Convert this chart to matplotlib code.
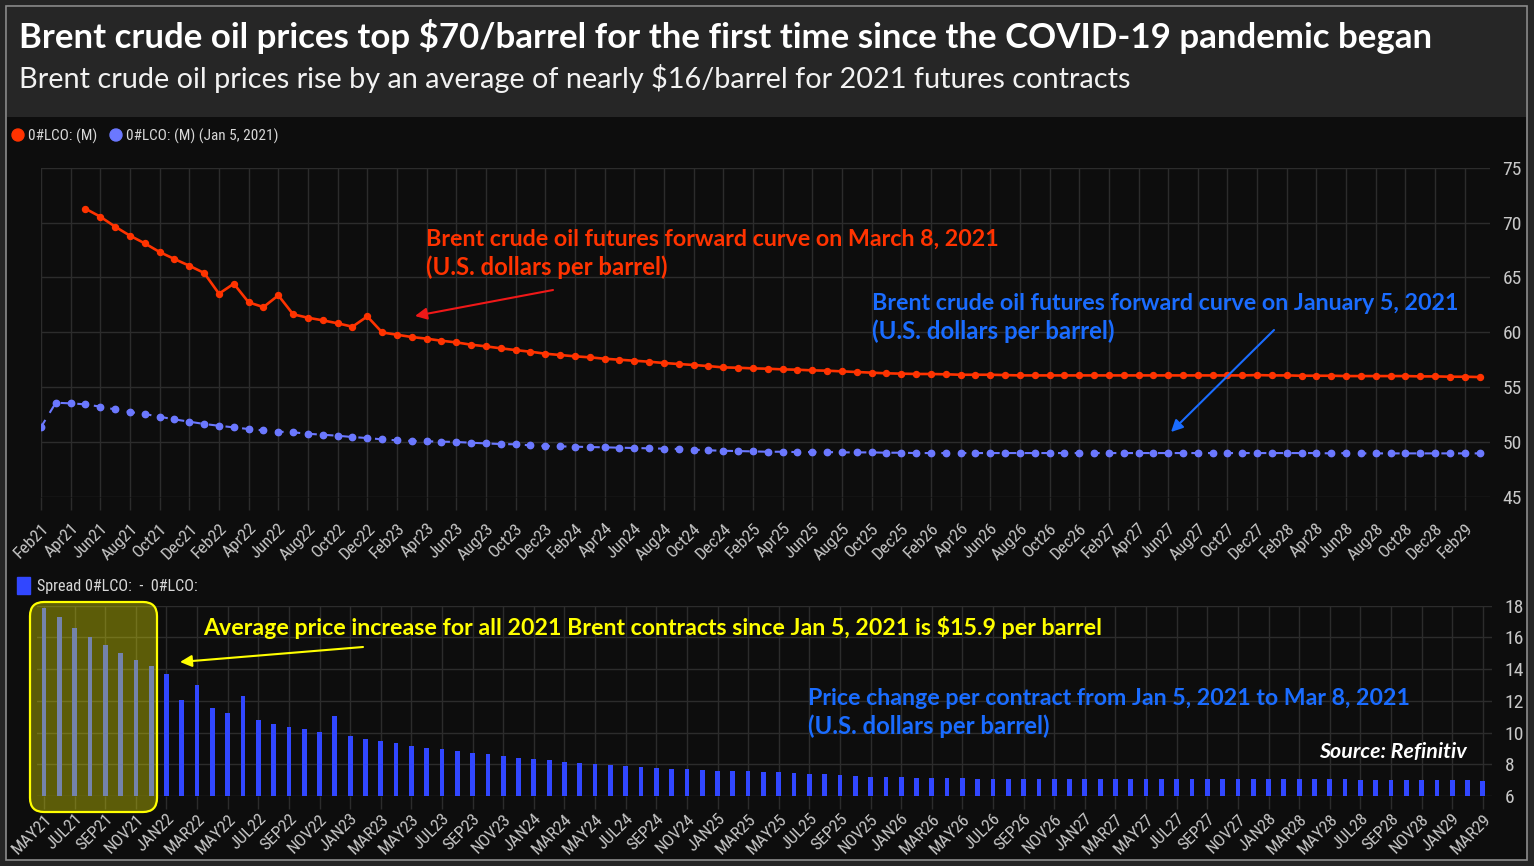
import os
import numpy as np
import pandas as pd
import matplotlib
matplotlib.use("Agg")
import matplotlib.pyplot as plt
from matplotlib.patches import Rectangle, FancyBboxPatch, FancyArrowPatch, Circle
from matplotlib import font_manager as fm
from matplotlib.font_manager import FontProperties

# ---------------- data ----------------
top_start = "2021-02"      # first contract of the Jan 5 curve
top_end = "2029-03"
red_start = "2021-05"      # first contract of the Mar 8 curve

red_values = [
    71.26, 70.53, 69.62, 68.80, 68.10, 67.31, 66.67, 66.06,
    65.40, 63.51, 64.42, 62.72, 62.29, 63.36, 61.63, 61.32, 61.08, 60.81, 60.50, 61.44,
    59.98, 59.77, 59.56, 59.41, 59.22, 59.07, 58.86, 58.71, 58.53, 58.37, 58.22, 58.04,
    57.92, 57.80, 57.71, 57.58, 57.49, 57.40, 57.31, 57.19, 57.10, 57.01, 56.91, 56.79,
    56.76, 56.70, 56.67, 56.61, 56.58, 56.52, 56.49, 56.43, 56.37, 56.31, 56.25, 56.22,
    56.19, 56.19, 56.16, 56.12, 56.12, 56.12, 56.09, 56.06, 56.06, 56.06, 56.06, 56.06,
    56.06, 56.06, 56.06, 56.06, 56.06, 56.06, 56.06, 56.06, 56.06, 56.06, 56.06, 56.09,
    56.06, 56.06, 56.03, 56.03, 56.03, 56.00, 56.00, 56.00, 56.00, 56.00, 55.97, 55.97,
    55.94, 55.94, 55.91,
]
blue_values = [
    51.35, 53.57, 53.51, 53.42, 53.21, 52.96, 52.72, 52.54, 52.29, 52.05, 51.84,
    51.63, 51.47, 51.32, 51.17, 51.05, 50.93, 50.87, 50.74, 50.65, 50.56, 50.44, 50.35,
    50.23, 50.14, 50.08, 50.05, 50.02, 49.99, 49.92, 49.86, 49.80, 49.78, 49.68, 49.62,
    49.59, 49.56, 49.53, 49.50, 49.47, 49.44, 49.41, 49.38, 49.35, 49.29, 49.23, 49.19,
    49.16, 49.13, 49.10, 49.10, 49.07, 49.07, 49.07, 49.04, 49.04, 49.04, 49.01, 49.01,
    48.98, 48.98, 48.98, 48.98, 48.98, 48.98, 48.98, 48.98, 48.98, 48.98, 48.98, 48.98,
    48.98, 48.98, 48.98, 48.98, 48.98, 48.98, 48.98, 48.98, 48.98, 48.98, 48.98, 48.98,
    48.98, 48.98, 48.98, 48.98, 48.95, 48.98, 48.95, 48.95, 48.95, 48.95, 48.95, 48.95,
    48.95, 48.95, 48.95,
]
spread_values = [
    17.83, 17.29, 16.61, 16.00, 15.52, 15.02, 14.58, 14.18,
    13.71, 12.05, 13.02, 11.53, 11.26, 12.33, 10.77, 10.54, 10.37, 10.21, 10.06, 11.07,
    9.76, 9.60, 9.45, 9.32, 9.18, 9.05, 8.95, 8.84, 8.74, 8.63, 8.53, 8.42,
    8.34, 8.25, 8.17, 8.08, 8.02, 7.96, 7.89, 7.83, 7.79, 7.73, 7.68, 7.62,
    7.60, 7.58, 7.56, 7.52, 7.50, 7.45, 7.41, 7.39, 7.33, 7.29, 7.22, 7.20,
    7.18, 7.16, 7.16, 7.14, 7.12, 7.10, 7.10, 7.08, 7.08, 7.08, 7.06, 7.06,
    7.06, 7.08, 7.08, 7.08, 7.08, 7.08, 7.08, 7.08, 7.08, 7.08, 7.08, 7.10,
    7.10, 7.08, 7.08, 7.06, 7.06, 7.06, 7.04, 7.04, 7.04, 7.02, 7.02, 7.02,
    7.00, 7.00, 6.97,
]
top_tick_labels = [
    "Feb21", "Apr21", "Jun21", "Aug21", "Oct21", "Dec21",
    "Feb22", "Apr22", "Jun22", "Aug22", "Oct22", "Dec22",
    "Feb23", "Apr23", "Jun23", "Aug23", "Oct23", "Dec23",
    "Feb24", "Apr24", "Jun24", "Aug24", "Oct24", "Dec24",
    "Feb25", "Apr25", "Jun25", "Aug25", "Oct25", "Dec25",
    "Feb26", "Apr26", "Jun26", "Aug26", "Oct26", "Dec26",
    "Feb27", "Apr27", "Jun27", "Aug27", "Oct27", "Dec27",
    "Feb28", "Apr28", "Jun28", "Aug28", "Oct28", "Dec28",
    "Feb29",
]
bottom_tick_labels = [
    "MAY21", "JUL21", "SEP21", "NOV21",
    "JAN22", "MAR22", "MAY22", "JUL22", "SEP22", "NOV22",
    "JAN23", "MAR23", "MAY23", "JUL23", "SEP23", "NOV23",
    "JAN24", "MAR24", "MAY24", "JUL24", "SEP24", "NOV24",
    "JAN25", "MAR25", "MAY25", "JUL25", "SEP25", "NOV25",
    "JAN26", "MAR26", "MAY26", "JUL26", "SEP26", "NOV26",
    "JAN27", "MAR27", "MAY27", "JUL27", "SEP27", "NOV27",
    "JAN28", "MAR28", "MAY28", "JUL28", "SEP28", "NOV28",
    "JAN29", "MAR29",
]

title = "Brent crude oil prices top $70/barrel for the first time since the COVID-19 pandemic began"
subtitle = "Brent crude oil prices rise by an average of nearly $16/barrel for 2021 futures contracts"

# ---------------- positions ----------------
months = pd.period_range(top_start, top_end, freq="M")
x_blue = np.arange(len(months))
x_red = np.arange(len(months))[months >= pd.Period(red_start, "M")]
x_bar = np.arange(len(spread_values))

# ---------------- style ----------------
W, H = 1534, 866
BG_OUT = "#252525"
BG_TITLE = "#262626"
BG_CHART = "#0d0d0d"
GRID = "#2c2c2c"
TICKC = "#c8c8c8"
RED = "#ff3300"
BLUE_LINE = "#6b78ff"
BAR = "#3147ff"
TXT_BLUE = "#1a6cff"
YEL = "#ffff00"

# pick a condensed face for the axis/legend text if one is installed
files = {os.path.basename(f.fname).lower(): f.fname for f in fm.fontManager.ttflist}
narrow_path = None
for cand in ["liberationsansnarrow-regular.ttf", "notosans-condensed.ttf",
             "robotocondensed-regular.ttf", "dejavusanscondensed.ttf",
             "opensans-condensedregular.ttf"]:
    if cand in files:
        narrow_path = files[cand]
        break
if narrow_path:
    def TFP(size):
        return FontProperties(fname=narrow_path, size=size)
    YS, XS = 14, 12.5
else:
    def TFP(size):
        return FontProperties(family="Roboto", size=size)
    YS, XS = 12.5, 11

avail = {f.name for f in fm.fontManager.ttflist}
AF = "Lato" if "Lato" in avail else "DejaVu Sans"

fig = plt.figure(figsize=(W / 100, H / 100), dpi=100, facecolor=BG_OUT)


def px_axes(l, t, r, b, **kw):
    return fig.add_axes([l / W, 1 - b / H, (r - l) / W, (b - t) / H], **kw)


# background
bg = fig.add_axes([0, 0, 1, 1], zorder=-5)
bg.set_xlim(0, W); bg.set_ylim(H, 0); bg.axis("off")
bg.add_patch(Rectangle((6, 6), 1521, 854, facecolor=BG_CHART, edgecolor="#8c8c8c", lw=1.2))
bg.add_patch(Rectangle((6.6, 6.6), 1519.8, 110.4, facecolor=BG_TITLE, edgecolor="none"))

# ---------------- top chart ----------------
ax = px_axes(41, 167.7, 1490, 496.7, zorder=1)
ax.set_facecolor("none")
ax.plot(x_red, red_values, color=RED, lw=1.9, marker="o", ms=4.3, zorder=3,
        solid_joinstyle="round")
ax.plot(x_blue, blue_values, color=BLUE_LINE, lw=1.5, ls=(0, (4, 4)), marker="o",
        ms=4.6, zorder=3)
ax.set_xlim(0, 97.7)
ax.set_ylim(45, 75)
ax.set_xticks(np.arange(0, len(top_tick_labels) * 2, 2))
ax.set_xticklabels(top_tick_labels, rotation=45, ha="right", rotation_mode="anchor")
ax.set_yticks(np.arange(45, 76, 5))
ax.yaxis.tick_right()
ax.grid(True, color=GRID, lw=1)
for s in ax.spines.values():
    s.set_visible(False)
ax.tick_params(axis="x", direction="out", length=9.4, width=1, color=GRID,
               labelcolor=TICKC, pad=8)
ax.tick_params(axis="y", length=0, pad=9, labelcolor=TICKC)
for lab in ax.get_xticklabels():
    lab.set_fontproperties(TFP(XS))
for lab in ax.get_yticklabels():
    lab.set_fontproperties(TFP(YS))

# ---------------- bottom chart ----------------
ax2 = px_axes(37, 605.7, 1492, 796, zorder=1)
ax2.set_facecolor("none")
ax2.bar(x_bar, spread_values, width=0.31, color=BAR, zorder=3)
ax2.set_xlim(-0.46, 94.6)
ax2.set_ylim(6, 18)
ax2.set_xticks(np.arange(0, len(bottom_tick_labels) * 2, 2))
ax2.set_xticklabels(bottom_tick_labels, rotation=45, ha="right", rotation_mode="anchor")
ax2.set_yticks(np.arange(6, 19, 2))
ax2.yaxis.tick_right()
ax2.grid(True, color=GRID, lw=1)
for s in ax2.spines.values():
    s.set_visible(False)
ax2.tick_params(axis="x", direction="out", length=9.4, width=1, color=GRID,
                labelcolor=TICKC, pad=1.5)
ax2.tick_params(axis="y", length=0, pad=9, labelcolor=TICKC)
for lab in ax2.get_xticklabels():
    lab.set_fontproperties(TFP(XS))
for lab in ax2.get_yticklabels():
    lab.set_fontproperties(TFP(YS))

# ---------------- overlay ----------------
ov = fig.add_axes([0, 0, 1, 1], zorder=5)
ov.set_xlim(0, W); ov.set_ylim(H, 0); ov.axis("off")
ov.patch.set_alpha(0)

renderer = fig.canvas.get_renderer()


def fitw(t, width):
    bb = t.get_window_extent(renderer)
    t.set_fontsize(t.get_fontsize() * width / bb.width)
    return t


def txt(x, y, s, width=None, **kw):
    t = ov.text(x, y, s, va="baseline", ha="left", **kw)
    if width is not None:
        fitw(t, width)
    return t


def small(x, y, s, width):
    t = ov.text(x, y, s, va="baseline", ha="left", color="#d8d8d8",
                fontproperties=TFP(10))
    return fitw(t, width)


txt(19, 48.5, title, width=1417, color="white", fontsize=24, fontweight="bold", family=AF)
txt(19, 88, subtitle, width=1118, color="#f2f2f2", fontsize=20, family=AF)

# legends
ov.add_patch(Circle((18, 135), 6, color=RED))
small(28, 140.5, "0#LCO: (M)", 69)
ov.add_patch(Circle((116, 135), 6, color=BLUE_LINE))
small(126, 140.5, "0#LCO: (M) (Jan 5, 2021)", 151)
ov.add_patch(Rectangle((17, 577), 13, 17, color=BAR))
small(37, 590.5, "Spread 0#LCO:  -  0#LCO:", 160)

# highlight box for 2021 contracts
ov.add_patch(FancyBboxPatch((30, 602), 127, 210, boxstyle="round,pad=0,rounding_size=14",
                            facecolor=YEL, alpha=0.33, edgecolor="none"))
ov.add_patch(FancyBboxPatch((30, 602), 127, 210, boxstyle="round,pad=0,rounding_size=14",
                            facecolor="none", edgecolor=YEL, lw=1.6))

# annotations
txt(426, 246, "Brent crude oil futures forward curve on March 8, 2021", width=577,
    color=RED, fontsize=16, fontweight="bold", family=AF)
txt(426, 275, "(U.S. dollars per barrel)", width=242,
    color=RED, fontsize=16, fontweight="bold", family=AF)
txt(872, 310, "Brent crude oil futures forward curve on January 5, 2021", width=591,
    color=TXT_BLUE, fontsize=16, fontweight="bold", family=AF)
txt(872, 339, "(U.S. dollars per barrel)", width=243,
    color=TXT_BLUE, fontsize=16, fontweight="bold", family=AF)
txt(203, 635, "Average price increase for all 2021 Brent contracts since Jan 5, 2021 is $15.9 per barrel",
    width=902, color=YEL, fontsize=16, fontweight="bold", family=AF)
txt(808, 705, "Price change per contract from Jan 5, 2021 to Mar 8, 2021", width=603,
    color=TXT_BLUE, fontsize=16, fontweight="bold", family=AF)
txt(808, 734, "(U.S. dollars per barrel)", width=242,
    color=TXT_BLUE, fontsize=16, fontweight="bold", family=AF)
txt(1319, 758, "Source: Refinitiv", width=148, color="white", fontsize=14,
    fontweight="bold", fontstyle="italic", family=AF)


def arrow(p0, p1, color):
    ov.add_patch(FancyArrowPatch(p0, p1, arrowstyle="-|>,head_length=7,head_width=3.5",
                                 color=color, lw=1.5, mutation_scale=1,
                                 shrinkA=0, shrinkB=0))


arrow((553, 290), (415, 316), "#f01818")
arrow((1274, 330), (1171, 432), TXT_BLUE)
arrow((363, 647), (180, 662), YEL)

fig.savefig("out.png", dpi=100, facecolor=BG_OUT)
